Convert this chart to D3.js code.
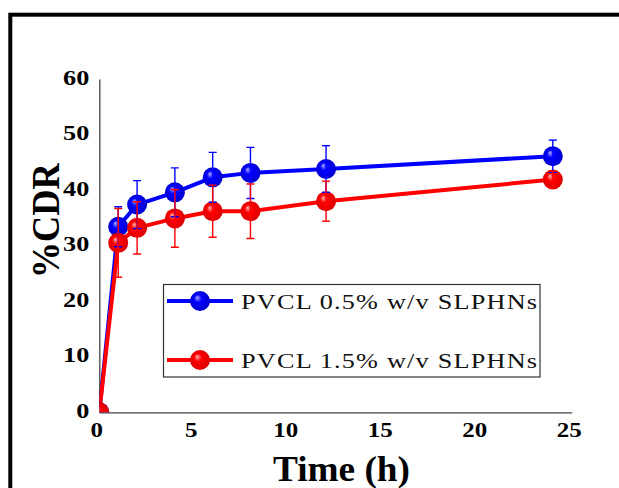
<!DOCTYPE html>
<html>
<head>
<meta charset="utf-8">
<script src="https://cdn.jsdelivr.net/npm/d3@7"></script>
<style>
  html, body { margin: 0; padding: 0; background: #fff; }
  svg { display: block; }
</style>
</head>
<body>
<svg id="chart" width="619" height="488"></svg>
<script>
// Cumulative drug release (%CDR) over time for two PVCL formulations
const times = [0, 1, 2, 4, 6, 8, 12, 24];
const pvcl05 = [0, 33.4, 37.4, 39.6, 42.3, 43.1, 43.8, 46.1];
const sd05   = [0, 3.6, 4.3, 4.4, 4.5, 4.6, 4.2, 2.9];
const pvcl15 = [0, 30.5, 33.2, 34.9, 36.2, 36.2, 38.0, 41.9];
const sd15   = [0, 6.2, 4.7, 5.2, 4.7, 4.9, 3.6, 1.5];
const xTicks = [0, 5, 10, 15, 20, 25];
const yTicks = [0, 10, 20, 30, 40, 50, 60];
const seriesNames = ["PVCL 0.5% w/v SLPHNs", "PVCL 1.5% w/v SLPHNs"];

const series = [
  { name: seriesNames[0], values: pvcl05, sd: sd05, color: "#0000ff", light: "#a8a8ff", dark: "#0000c8", grad: "gBlue" },
  { name: seriesNames[1], values: pvcl15, sd: sd15, color: "#ff0000", light: "#ffb0b0", dark: "#d80000", grad: "gRed" }
];

const svg = d3.select("#chart");
const serif = "'Liberation Serif', 'Times New Roman', Times, serif";

const x = d3.scaleLinear().domain([0, 25]).range([99.3, 571.7]);
const y = d3.scaleLinear().domain([0, 60]).range([412.3, 79]);

// Sphere-like shading for the markers
const defs = svg.append("defs");
series.forEach(s => {
  const g = defs.append("radialGradient").attr("id", s.grad)
    .attr("cx", "50%").attr("cy", "50%").attr("r", "55%")
    .attr("fx", "35%").attr("fy", "32%");
  g.append("stop").attr("offset", "0%").attr("stop-color", s.light);
  g.append("stop").attr("offset", "35%").attr("stop-color", s.color);
  g.append("stop").attr("offset", "100%").attr("stop-color", s.dark);
});
defs.append("clipPath").attr("id", "plotClip")
  .append("rect")
  .attr("x", x(0)).attr("y", 0)
  .attr("width", 619 - x(0)).attr("height", y(0));

// Outer frame
svg.append("rect")
  .attr("x", 10.3).attr("y", 14.7)
  .attr("width", 700).attr("height", 600)
  .attr("fill", "none").attr("stroke", "#000").attr("stroke-width", 4);

// Axes
const xAxis = svg.append("g")
  .attr("transform", `translate(0,${y(0)})`)
  .call(d3.axisBottom(x).tickValues(xTicks).tickSize(0).tickSizeOuter(0).tickFormat(d3.format("d")));
const yAxis = svg.append("g")
  .attr("transform", `translate(${x(0)},0)`)
  .call(d3.axisLeft(y).tickValues(yTicks).tickSize(0).tickSizeOuter(0).tickFormat(d3.format("d")));

[xAxis, yAxis].forEach(a => {
  a.select(".domain").attr("stroke", "#444").attr("stroke-width", 1.3);
  a.selectAll("text")
    .attr("font-family", serif).attr("font-weight", "bold")
    .attr("font-size", 20.5).attr("fill", "#000");
});
xAxis.selectAll("text")
  .attr("x", 0).attr("y", 0).attr("dy", null)
  .attr("text-anchor", "middle")
  .attr("transform", "translate(-3,24.4) scale(1.22,1)");
yAxis.selectAll("text")
  .attr("x", 0).attr("y", 0).attr("dy", null)
  .attr("text-anchor", "end")
  .attr("transform", "translate(-10,5.2) scale(1.28,1)");

// Axis titles
svg.append("text")
  .attr("x", 341.5).attr("y", 481)
  .attr("text-anchor", "middle")
  .attr("font-family", serif).attr("font-weight", "bold")
  .attr("font-size", 35).attr("fill", "#000")
  .attr("textLength", 137).attr("lengthAdjust", "spacingAndGlyphs")
  .text("Time (h)");
svg.append("text")
  .attr("transform", "translate(59,220.8) rotate(-90)")
  .attr("text-anchor", "middle")
  .attr("font-family", serif).attr("font-weight", "bold")
  .attr("font-size", 40).attr("fill", "#000")
  .attr("textLength", 115).attr("lengthAdjust", "spacingAndGlyphs")
  .text("%CDR");

// Series: lines, then markers, then error bars
const plot = svg.append("g").attr("clip-path", "url(#plotClip)");
const line = d3.line().x((d, i) => x(times[i])).y(d => y(d));

series.forEach(s => {
  plot.append("path")
    .datum(s.values)
    .attr("d", line)
    .attr("fill", "none")
    .attr("stroke", s.color)
    .attr("stroke-width", 4)
    .attr("stroke-linejoin", "round");
});
series.forEach(s => {
  plot.selectAll(null)
    .data(s.values)
    .join("circle")
    .attr("cx", (d, i) => x(times[i]))
    .attr("cy", d => y(d))
    .attr("r", 10)
    .attr("fill", `url(#${s.grad})`);
});
series.forEach(s => {
  const pts = s.values.map((v, i) => ({ t: times[i], v, e: s.sd[i] })).filter(p => p.e > 0);
  const eb = plot.append("g").attr("stroke", s.color).attr("stroke-width", 1.4).attr("fill", "none");
  pts.forEach(p => {
    const cx = x(p.t), y1 = y(p.v + p.e), y2 = y(p.v - p.e);
    eb.append("line").attr("x1", cx).attr("x2", cx).attr("y1", y1).attr("y2", y2);
    eb.append("line").attr("x1", cx - 4).attr("x2", cx + 4).attr("y1", y1).attr("y2", y1);
    eb.append("line").attr("x1", cx - 4).attr("x2", cx + 4).attr("y1", y2).attr("y2", y2);
  });
});

// Legend
const legend = svg.append("g");
legend.append("rect")
  .attr("x", 163.5).attr("y", 284.5)
  .attr("width", 376.5).attr("height", 92.5)
  .attr("fill", "#fff").attr("stroke", "#333").attr("stroke-width", 1.2);
const legendRows = [301, 360];
const legendScale = 1.22;
series.forEach((s, i) => {
  const ly = legendRows[i];
  legend.append("line")
    .attr("x1", 167).attr("x2", 233).attr("y1", ly).attr("y2", ly)
    .attr("stroke", s.color).attr("stroke-width", 4);
  legend.append("circle")
    .attr("cx", 200).attr("cy", ly).attr("r", 10)
    .attr("fill", `url(#${s.grad})`);
  legend.append("text")
    .attr("transform", `translate(241,${ly + 7.5}) scale(${legendScale},1)`)
    .attr("x", 0).attr("y", 0)
    .attr("font-family", serif).attr("font-size", 21.5).attr("fill", "#111")
    .attr("textLength", 296 / legendScale).attr("lengthAdjust", "spacing")
    .text(s.name);
});
</script>
</body>
</html>
